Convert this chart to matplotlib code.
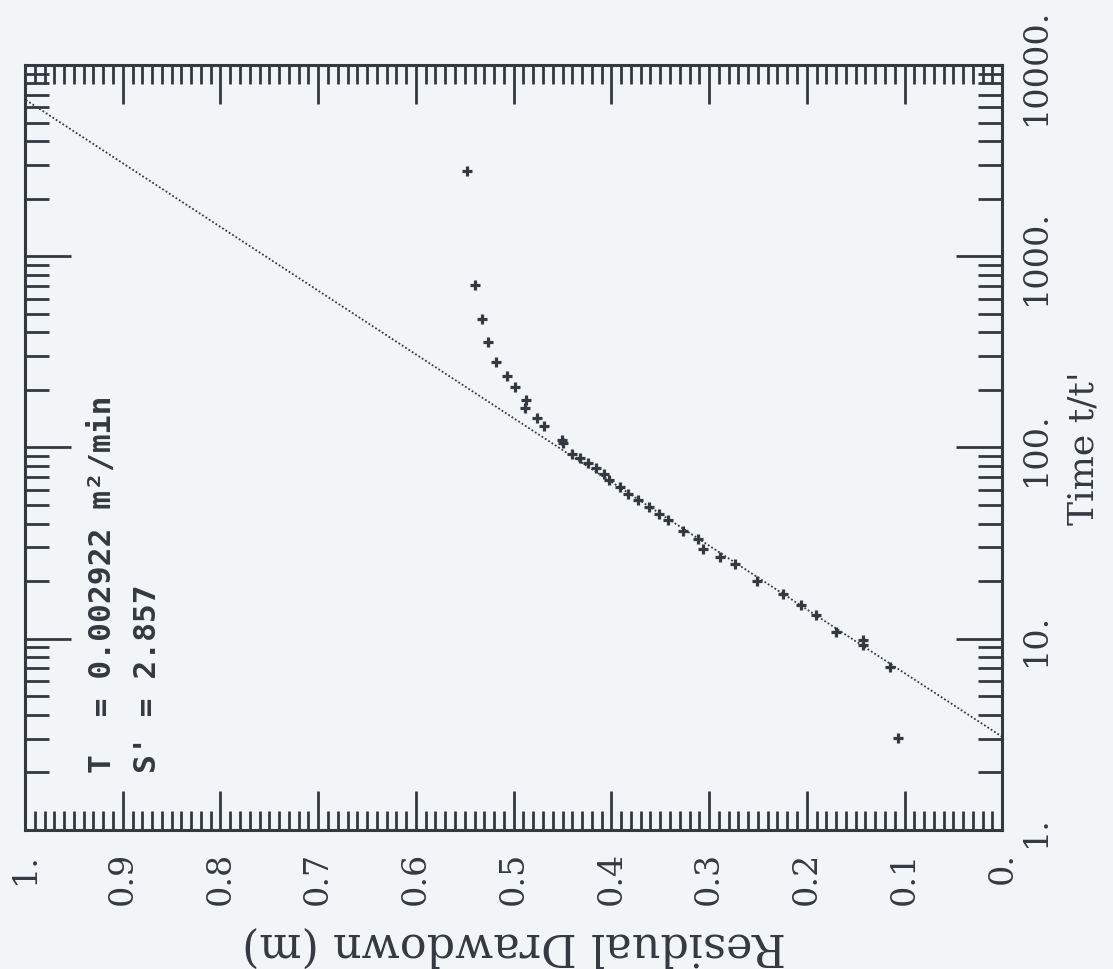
import numpy as np
import matplotlib
matplotlib.use("Agg")
import matplotlib.pyplot as plt
from matplotlib.ticker import FixedLocator, FixedFormatter, LogLocator, NullFormatter, MultipleLocator

# residual drawdown (m) vs time ratio t/t'
drawdown = [0.548, 0.540, 0.532, 0.526, 0.518, 0.507, 0.499, 0.487, 0.488,
            0.476, 0.469, 0.451, 0.449, 0.440, 0.432, 0.424, 0.416, 0.408,
            0.402, 0.391, 0.383, 0.373, 0.361, 0.351, 0.342, 0.327, 0.311,
            0.306, 0.289, 0.273, 0.251, 0.224, 0.206, 0.191, 0.170, 0.143,
            0.143, 0.115, 0.107]
time_ratio = [2800, 708, 470, 356, 281, 236, 206, 178, 160,
              142, 129, 109, 106, 92.5, 88, 83, 78, 72.6,
              67.6, 62.5, 57, 53, 48.9, 44.9, 41.8, 36.6, 33.2,
              29.5, 26.7, 24.6, 20.0, 17.1, 15.0, 13.3, 10.8, 9.85,
              9.3, 7.1, 3.03]

# fitted straight line (Theis recovery)
fit_drawdown = [0.0, 1.0]
fit_time = [3.07, 6600]

s_ticks = [1.0, 0.9, 0.8, 0.7, 0.6, 0.5, 0.4, 0.3, 0.2, 0.1, 0.0]
s_labels = ["1.", "0.9", "0.8", "0.7", "0.6", "0.5", "0.4", "0.3", "0.2", "0.1", "0."]
t_ticks = [1, 10, 100, 1000, 10000]
t_labels = ["1.", "10.", "100.", "1000.", "10000."]

ink = "#34393f"
bg = "#f2f5f8"

fig = plt.figure(figsize=(11.13, 9.70), dpi=100, facecolor=bg)
ax = fig.add_axes([0.0225, 0.1433, 0.878, 0.7887], facecolor=bg)

ax.plot(fit_drawdown, fit_time, color=ink, lw=1.3, ls=(0, (1, 1.2)))
ax.plot(drawdown, time_ratio, ls="none", marker="+", ms=7.5, mew=2.3, color=ink)

ax.set_xlim(1, 0)
ax.set_yscale("log")
ax.set_ylim(1, 10000)

for sp in ax.spines.values():
    sp.set_color(ink)
    sp.set_linewidth(2.2)

# drawdown axis (horizontal, reversed)
ax.xaxis.set_major_locator(FixedLocator(s_ticks))
ax.xaxis.set_major_formatter(FixedFormatter(s_labels))
ax.xaxis.set_minor_locator(MultipleLocator(0.01))
ax.tick_params(axis="x", which="both", direction="in", top=True, bottom=True,
               color=ink, width=2.0)
ax.tick_params(axis="x", which="major", length=28, pad=15, labelrotation=90,
               labelsize=24, labelcolor=ink)
ax.tick_params(axis="x", which="minor", length=14)

# time axis (vertical, log)
ax.yaxis.set_major_locator(FixedLocator(t_ticks))
ax.yaxis.set_major_formatter(FixedFormatter(t_labels))
ax.yaxis.set_minor_locator(LogLocator(base=10, subs=np.arange(2, 10)))
ax.yaxis.set_minor_formatter(NullFormatter())
ax.tick_params(axis="y", which="both", direction="in", left=True, right=True,
               labelleft=False, labelright=True, color=ink, width=2.0)
ax.tick_params(axis="y", which="major", length=33, pad=13, labelrotation=90,
               labelsize=24, labelcolor=ink)
ax.tick_params(axis="y", which="minor", length=17)

for lab in ax.get_xticklabels() + ax.get_yticklabels():
    lab.set_family("DejaVu Serif")
for lab in ax.get_yticklabels():
    lab.set_va("center")

ax.set_xlabel("Residual Drawdown (m)", rotation=180, ha="center", va="center",
              fontsize=32, family="DejaVu Serif", color=ink)
ax.xaxis.set_label_coords(0.5, -0.150)
ax.yaxis.set_label_position("right")
ax.set_ylabel("Time t/t'", rotation=90, ha="center", va="center",
              fontsize=26, family="DejaVu Serif", color=ink)
ax.yaxis.set_label_coords(1.083, 0.5)

ax.text(0.0788, 0.0758, "T  = 0.002922 m²/min", transform=ax.transAxes,
        rotation=90, ha="center", va="bottom", fontsize=22.5,
        family="DejaVu Sans Mono", fontweight="bold", color=ink)
ax.text(0.1249, 0.0758, "S' = 2.857", transform=ax.transAxes,
        rotation=90, ha="center", va="bottom", fontsize=22.5,
        family="DejaVu Sans Mono", fontweight="bold", color=ink)

fig.savefig("out.png", dpi=100, facecolor=bg)
